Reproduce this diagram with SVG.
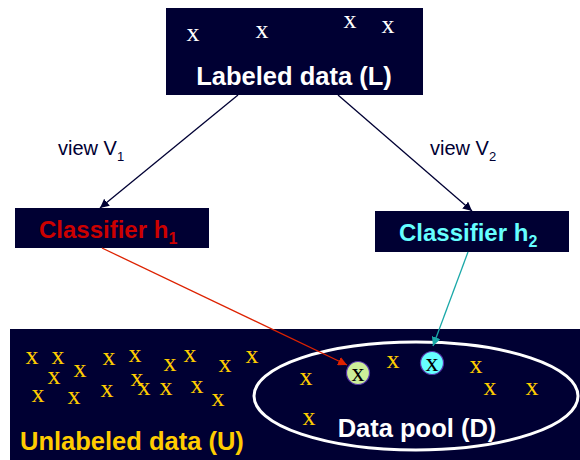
<svg xmlns="http://www.w3.org/2000/svg" width="580" height="460" viewBox="0 0 580 460">
<defs>
<marker id="ahNavy" viewBox="0 0 10 10" refX="10" refY="5" markerWidth="9" markerHeight="9" markerUnits="userSpaceOnUse" orient="auto"><path d="M0,0 L10,5 L0,10 z" fill="#000033"/></marker>
<marker id="ahRed" viewBox="0 0 10 10" refX="10" refY="5" markerWidth="9" markerHeight="9" markerUnits="userSpaceOnUse" orient="auto"><path d="M0,0 L10,5 L0,10 z" fill="#dd2200"/></marker>
<marker id="ahTeal" viewBox="0 0 10 10" refX="10" refY="5" markerWidth="9" markerHeight="9" markerUnits="userSpaceOnUse" orient="auto"><path d="M0,0 L10,5 L0,10 z" fill="#1aa8a8"/></marker>
</defs>
<style>
.box{fill:#000033}
.big{font-family:"Liberation Sans",Arial,sans-serif;font-weight:bold;font-size:25.5px}
.cls{font-family:"Liberation Sans",Arial,sans-serif;font-weight:bold;font-size:24px}
.view{font-family:"Liberation Sans",Arial,sans-serif;font-size:20px;fill:#000033}
.x{font-family:"Liberation Serif","Times New Roman",serif;font-size:26px;text-anchor:middle}
.wx{fill:#ffffff}
.yx{fill:#ffcc00}
.bx{fill:#000000}
</style>
<g id="unlabeled">
<rect class="box" x="10" y="329" width="570" height="131"/>
<g class="x yx">
<text x="32" y="364">x</text><text x="58" y="364">x</text><text x="80" y="377">x</text>
<text x="54" y="384">x</text><text x="38" y="402">x</text><text x="74" y="404">x</text>
<text x="109" y="365">x</text><text x="135" y="362">x</text><text x="107" y="397">x</text>
<text x="137" y="386">x</text><text x="144" y="395">x</text><text x="166" y="395">x</text>
<text x="170" y="371">x</text><text x="190" y="362">x</text><text x="197" y="393">x</text>
<text x="225" y="372">x</text><text x="218" y="406">x</text><text x="252" y="363">x</text>
</g>
<text class="big" x="20" y="450" fill="#ffcc00">Unlabeled data (U)</text>
</g>
<g id="pool">
<ellipse cx="416" cy="396" rx="162" ry="54" fill="none" stroke="#ffffff" stroke-width="3"/>
<g class="x yx">
<text x="306" y="385">x</text><text x="393" y="368">x</text><text x="476" y="373">x</text>
<text x="490" y="395">x</text><text x="532" y="395">x</text><text x="309" y="425">x</text>
</g>
<circle cx="358" cy="373" r="11.5" fill="#ccee99" stroke="#5533aa" stroke-width="1.2"/>
<text class="x bx" x="358" y="381">x</text>
<circle cx="432" cy="363" r="11.5" fill="#66ffff" stroke="#5533aa" stroke-width="1.2"/>
<text class="x bx" x="432" y="371">x</text>
<text class="big" x="417" y="437" fill="#ffffff" text-anchor="middle">Data pool (D)</text>
</g>
<g id="labeled">
<rect class="box" x="166" y="8" width="257" height="87"/>
<g class="x wx">
<text x="193" y="41">x</text><text x="262" y="38">x</text><text x="350" y="28">x</text><text x="388" y="33">x</text>
</g>
<text class="big" x="294" y="85" fill="#ffffff" text-anchor="middle">Labeled data (L)</text>
</g>
<g id="h1">
<rect class="box" x="15" y="208" width="194" height="40"/>
<text class="cls" x="39" y="238" fill="#cc0000">Classifier h<tspan font-size="16" dy="6">1</tspan></text>
</g>
<g id="h2">
<rect class="box" x="375" y="211" width="194" height="41"/>
<text class="cls" x="399" y="241" fill="#66ffff">Classifier h<tspan font-size="16" dy="6">2</tspan></text>
</g>
<g id="connectors">
<line x1="238" y1="95" x2="100" y2="208" stroke="#000033" stroke-width="1.3" marker-end="url(#ahNavy)"/>
<line x1="338" y1="95" x2="472" y2="211" stroke="#000033" stroke-width="1.3" marker-end="url(#ahNavy)"/>
<line x1="102" y1="248" x2="347" y2="365" stroke="#dd2200" stroke-width="1.3" marker-end="url(#ahRed)"/>
<line x1="468" y1="252" x2="433" y2="346" stroke="#1aa8a8" stroke-width="1.3" marker-end="url(#ahTeal)"/>
</g>
<g id="labels">
<text class="view" x="58" y="155">view V<tspan font-size="13" dy="6">1</tspan></text>
<text class="view" x="430" y="155">view V<tspan font-size="13" dy="6">2</tspan></text>
</g>
</svg>
